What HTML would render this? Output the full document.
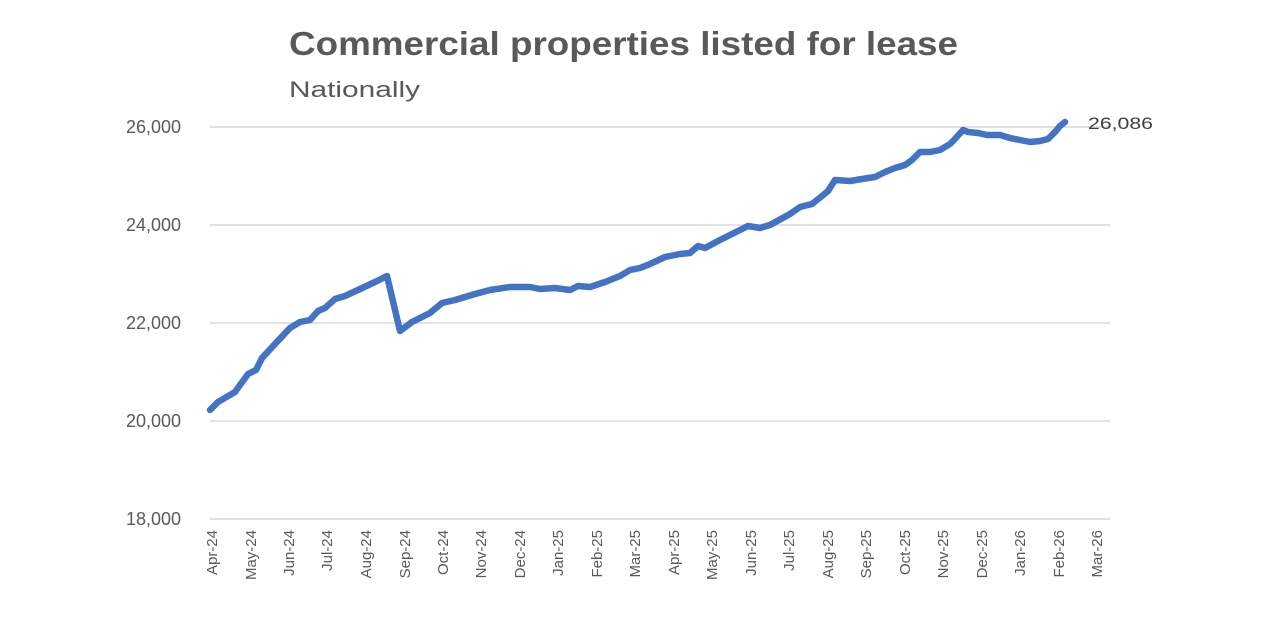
<!DOCTYPE html>
<html><head><style>body{margin:0;background:#fff}svg{display:block}</style></head><body>
<svg width="1278" height="636" xmlns="http://www.w3.org/2000/svg" font-family="Liberation Sans, sans-serif">
<rect width="1278" height="636" fill="#fff"/>
<text x="289" y="55" font-size="33" font-weight="bold" fill="#595959" textLength="669" lengthAdjust="spacingAndGlyphs">Commercial properties listed for lease</text>
<text x="289" y="97" font-size="22" fill="#595959" textLength="131" lengthAdjust="spacingAndGlyphs">Nationally</text>
<g stroke="#d9d9d9" stroke-width="1.5">
<line x1="210" x2="1110" y1="127" y2="127"/><line x1="210" x2="1110" y1="225" y2="225"/><line x1="210" x2="1110" y1="323" y2="323"/><line x1="210" x2="1110" y1="421" y2="421"/><line x1="210" x2="1110" y1="519" y2="519"/>
</g>
<g font-size="18" fill="#595959" text-anchor="end">
<text x="181" y="133">26,000</text><text x="181" y="231">24,000</text><text x="181" y="329">22,000</text><text x="181" y="427">20,000</text><text x="181" y="525">18,000</text>
</g>
<g font-size="15" fill="#595959" text-anchor="end">
<text transform="translate(217,530) rotate(-90)">Apr-24</text>
<text transform="translate(256,530) rotate(-90)">May-24</text>
<text transform="translate(294,530) rotate(-90)">Jun-24</text>
<text transform="translate(332,530) rotate(-90)">Jul-24</text>
<text transform="translate(371,530) rotate(-90)">Aug-24</text>
<text transform="translate(410,530) rotate(-90)">Sep-24</text>
<text transform="translate(448,530) rotate(-90)">Oct-24</text>
<text transform="translate(486,530) rotate(-90)">Nov-24</text>
<text transform="translate(525,530) rotate(-90)">Dec-24</text>
<text transform="translate(563,530) rotate(-90)">Jan-25</text>
<text transform="translate(602,530) rotate(-90)">Feb-25</text>
<text transform="translate(640,530) rotate(-90)">Mar-25</text>
<text transform="translate(679,530) rotate(-90)">Apr-25</text>
<text transform="translate(717,530) rotate(-90)">May-25</text>
<text transform="translate(756,530) rotate(-90)">Jun-25</text>
<text transform="translate(794,530) rotate(-90)">Jul-25</text>
<text transform="translate(833,530) rotate(-90)">Aug-25</text>
<text transform="translate(871,530) rotate(-90)">Sep-25</text>
<text transform="translate(910,530) rotate(-90)">Oct-25</text>
<text transform="translate(948,530) rotate(-90)">Nov-25</text>
<text transform="translate(987,530) rotate(-90)">Dec-25</text>
<text transform="translate(1025,530) rotate(-90)">Jan-26</text>
<text transform="translate(1064,530) rotate(-90)">Feb-26</text>
<text transform="translate(1102,530) rotate(-90)">Mar-26</text>
</g>
<polyline fill="none" stroke="#4472c4" stroke-width="6.5" stroke-linejoin="round" stroke-linecap="round" points="210,410 218,402 235,392 240,385 248,374 256,370 262,358 275,344 290,328 300,322 310,320 318,311 325,308 335,299 345,296 360,289 375,282 387,276 400,331 412,322 420,318 430,313 442,303 455,300 475,294 490,290 510,287 530,287 540,289 555,288 570,290 578,286 590,287 605,282 620,276 630,270 640,268 650,264 665,257 680,254 690,253 698,246 705,248 720,240 740,230 748,226 760,228 770,225 790,214 800,207 812,204 822,196 828,191 835,180 850,181 862,179 875,177 885,172 895,168 905,165 912,160 920,152 930,152 940,150 950,144 953,141 963,130 968,132 978,133 987,135 1000,135 1010,138 1020,140 1030,142 1040,141 1048,139 1055,132 1060,126 1065,122"/>
<text x="1088" y="129" font-size="17" fill="#404040" textLength="65" lengthAdjust="spacingAndGlyphs">26,086</text>
</svg>
</body></html>
